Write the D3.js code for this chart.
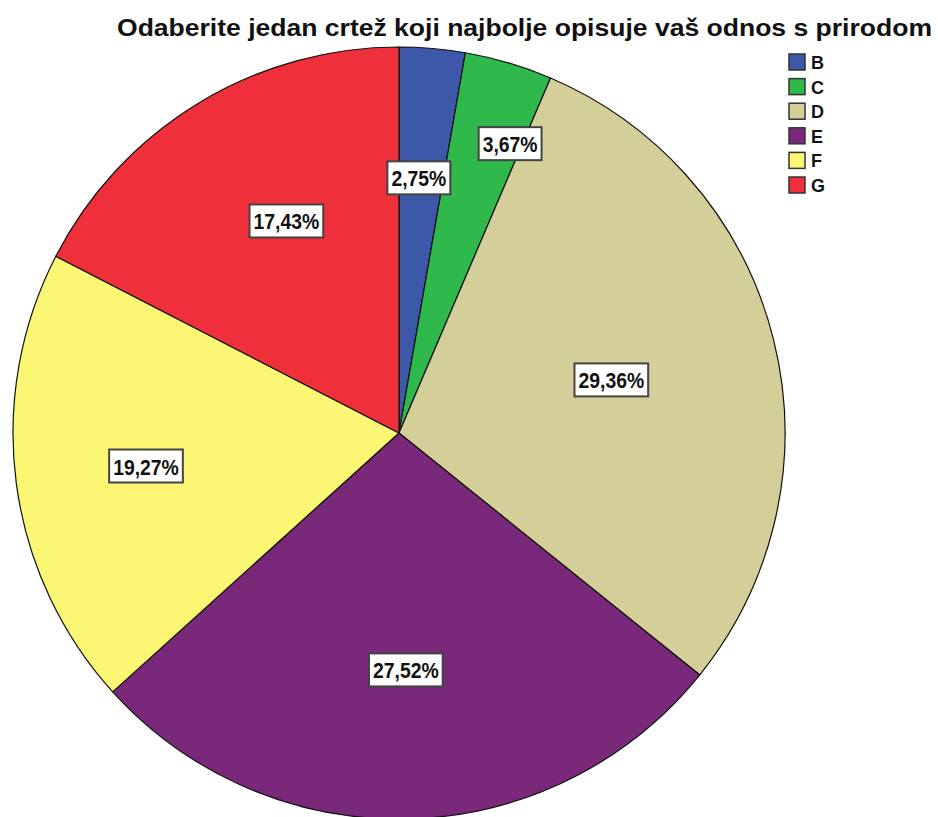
<!DOCTYPE html>
<html>
<head>
<meta charset="utf-8">
<script src="https://cdn.jsdelivr.net/npm/d3@7"></script>
<style>
  html, body { margin: 0; padding: 0; background: #ffffff; }
  svg { display: block; font-family: "Liberation Sans", Arial, sans-serif; }
</style>
</head>
<body>
<svg id="chart" width="938" height="817"></svg>
<script>
// ---- data ----
const categories = ["B", "C", "D", "E", "F", "G"];
const percents = [2.75, 3.67, 29.36, 27.52, 19.27, 17.43];
const percentLabels = ["2,75%", "3,67%", "29,36%", "27,52%", "19,27%", "17,43%"];
const titleText = "Odaberite jedan crtež koji najbolje opisuje vaš odnos s prirodom";

// ---- styles / layout ----
const colors = ["#3D57A9", "#2FB84B", "#D4CE98", "#79287A", "#FBF673", "#EF303A"];
const labelRadiusFactor = [0.663, 0.803, 0.567, 0.614, 0.661, 0.622];
const labelAngleShiftDeg = [-0.5, 4.5, 0, 0, 0, 3.4];
const W = 938, H = 817;
const cx = 399, cy = 433, R = 386;

const svg = d3.select("#chart");

const color = d3.scaleOrdinal().domain(categories).range(colors);

const pie = d3.pie().sort(null).value(d => d.value);
const data = categories.map((c, i) => ({ cat: c, value: percents[i], label: percentLabels[i], i }));
const arcs = pie(data);

const arc = d3.arc().innerRadius(0).outerRadius(R);

const g = svg.append("g").attr("transform", `translate(${cx},${cy})`);

g.selectAll("path.slice")
  .data(arcs)
  .join("path")
  .attr("class", "slice")
  .attr("d", arc)
  .attr("fill", d => color(d.data.cat))
  .attr("stroke", "#111")
  .attr("stroke-width", 1.2)
  .attr("stroke-linejoin", "round");

// labels
const lab = g.selectAll("g.lab")
  .data(arcs)
  .join("g")
  .attr("class", "lab")
  .attr("transform", d => {
    const r = R * labelRadiusFactor[d.data.i];
    const a = (d.startAngle + d.endAngle) / 2 + labelAngleShiftDeg[d.data.i] * Math.PI / 180;
    return `translate(${r * Math.sin(a)},${-r * Math.cos(a)})`;
  });

lab.each(function(d) {
  const sel = d3.select(this);
  const t = sel.append("text")
    .attr("text-anchor", "middle")
    .attr("dominant-baseline", "central")
    .attr("font-size", 22)
    .attr("font-weight", "bold")
    .attr("fill", "#111")
    .attr("y", 1)
    .text(d.data.label);
  const w0 = t.node().getComputedTextLength();
  const w = w0 * 0.88;
  t.attr("textLength", w).attr("lengthAdjust", "spacingAndGlyphs");
  const padX = 4, h = 33;
  sel.insert("rect", "text")
    .attr("x", -w / 2 - padX)
    .attr("y", -h / 2)
    .attr("width", w + 2 * padX)
    .attr("height", h)
    .attr("fill", "#fff")
    .attr("stroke", "#444")
    .attr("stroke-width", 2);
});

// title
svg.append("text")
  .attr("x", 117)
  .attr("y", 36)
  .attr("font-size", 23)
  .attr("font-weight", "bold")
  .attr("fill", "#111")
  .attr("textLength", 815)
  .attr("lengthAdjust", "spacingAndGlyphs")
  .text(titleText);

// legend
const legend = svg.append("g").attr("transform", "translate(789,54)");
const items = legend.selectAll("g.item")
  .data(categories)
  .join("g")
  .attr("class", "item")
  .attr("transform", (d, i) => `translate(0,${i * 24.6})`);

items.append("rect")
  .attr("width", 16)
  .attr("height", 16)
  .attr("fill", d => color(d))
  .attr("stroke", "#333")
  .attr("stroke-width", 1.5);

items.append("text")
  .attr("x", 22)
  .attr("y", 9)
  .attr("dominant-baseline", "central")
  .attr("font-size", 18)
  .attr("font-weight", "bold")
  .attr("fill", "#111")
  .text(d => d);
</script>
</body>
</html>
